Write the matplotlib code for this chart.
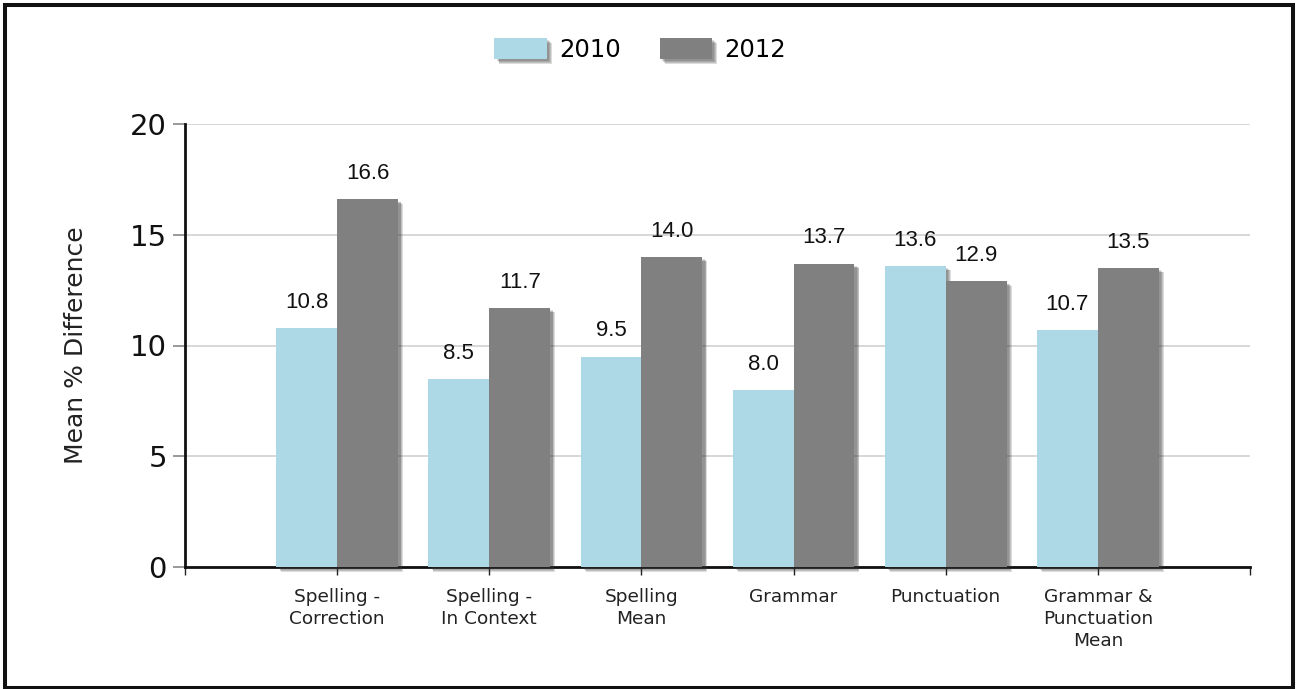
import matplotlib
matplotlib.use("Agg")
import matplotlib.pyplot as plt
import matplotlib.patheffects as pe
from matplotlib.patches import Rectangle, Patch

# ------------------ Data -----------------

categories = ["Spelling -\nCorrection", "Spelling -\nIn Context", "Spelling\nMean",
              "Grammar", "Punctuation", "Grammar &\nPunctuation\nMean"]
mean_2010 = [10.8, 8.5, 9.5, 8.0, 13.6, 10.7]
mean_2012 = [16.6, 11.7, 14.0, 13.7, 12.9, 13.5]
series_labels = ["2010", "2012"]
y_ticks = [0, 5, 10, 15, 20]

# ------------------ Style -----------------

color_2010 = "#add8e6"
color_2012 = "#808080"
bar_width = 0.4

# soft drop shadow built from a few stacked offset copies
shadow = [pe.SimplePatchShadow(offset=(d, -d * 0.9), shadow_rgbFace="#333333", alpha=0.17)
          for d in (3.6, 3.0, 2.4, 1.8)] + [pe.Normal()]

plt.rcParams['font.family'] = ['DejaVu Sans']

fig = plt.figure(figsize=(12.97, 6.89), dpi=100)
ax = fig.add_axes([185 / 1297, 1 - 567 / 689, (1250 - 185) / 1297, (567 - 124) / 689])

x = list(range(1, len(categories) + 1))
x_2010 = [i - bar_width / 2 for i in x]
x_2012 = [i + bar_width / 2 for i in x]

b1 = ax.bar(x_2010, mean_2010, width=bar_width, color=color_2010, zorder=3, clip_on=False)
b2 = ax.bar(x_2012, mean_2012, width=bar_width, color=color_2012, zorder=3, clip_on=False)
for bars in (b1, b2):
    for b in bars:
        b.set_path_effects(shadow)

# value labels above each bar
for xs, vals in ((x_2010, mean_2010), (x_2012, mean_2012)):
    for xi, v in zip(xs, vals):
        ax.annotate("{:.1f}".format(v), (xi, v), xytext=(0, 14.5), textcoords="offset points",
                    ha="center", va="baseline", fontsize=16, family="Liberation Sans",
                    color="#111111", zorder=5)

ax.set_xlim(0, len(categories) + 1)
ax.set_ylim(0, 20)
ax.set_yticks(y_ticks)
ax.set_yticklabels([str(t) for t in y_ticks], fontsize=21, color="#111111")
ax.set_xticks(range(0, len(categories) + 2))
ax.set_xticklabels([""] + categories + [""], fontsize=13.3, color="#222222", linespacing=1.3)
ax.tick_params(axis="y", length=9, width=1.2, color="#888888", pad=4)
ax.tick_params(axis="x", length=6, width=1.0, color="#222222", pad=9)

ax.set_ylabel("Mean % Difference", fontsize=18, color="#222222", labelpad=30)

ax.grid(axis="y", color="#d4d4d4", linewidth=1.3, zorder=0)
ax.set_axisbelow(True)
for side in ("top", "right"):
    ax.spines[side].set_visible(False)
ax.spines["left"].set_linewidth(2)
ax.spines["bottom"].set_linewidth(2)
ax.spines["left"].set_color("#111111")
ax.spines["bottom"].set_color("#111111")

# legend centred above the plot
handles = [Patch(facecolor=color_2010, edgecolor="none", path_effects=shadow),
           Patch(facecolor=color_2012, edgecolor="none", path_effects=shadow)]
fig.legend(handles, series_labels, loc="center", bbox_to_anchor=(640 / 1297, 1 - 50 / 689),
           ncol=2, frameon=False, fontsize=17.5, handlelength=2.15, handleheight=0.95,
           handletextpad=0.5, columnspacing=1.6)

# outer frame
fig.patches.append(Rectangle((5 / 1297, 1.5 / 689), 1288 / 1297, 682.5 / 689,
                             transform=fig.transFigure, fill=False,
                             edgecolor="#111111", linewidth=2.9))

fig.savefig("out.png", dpi=100, facecolor="white")
